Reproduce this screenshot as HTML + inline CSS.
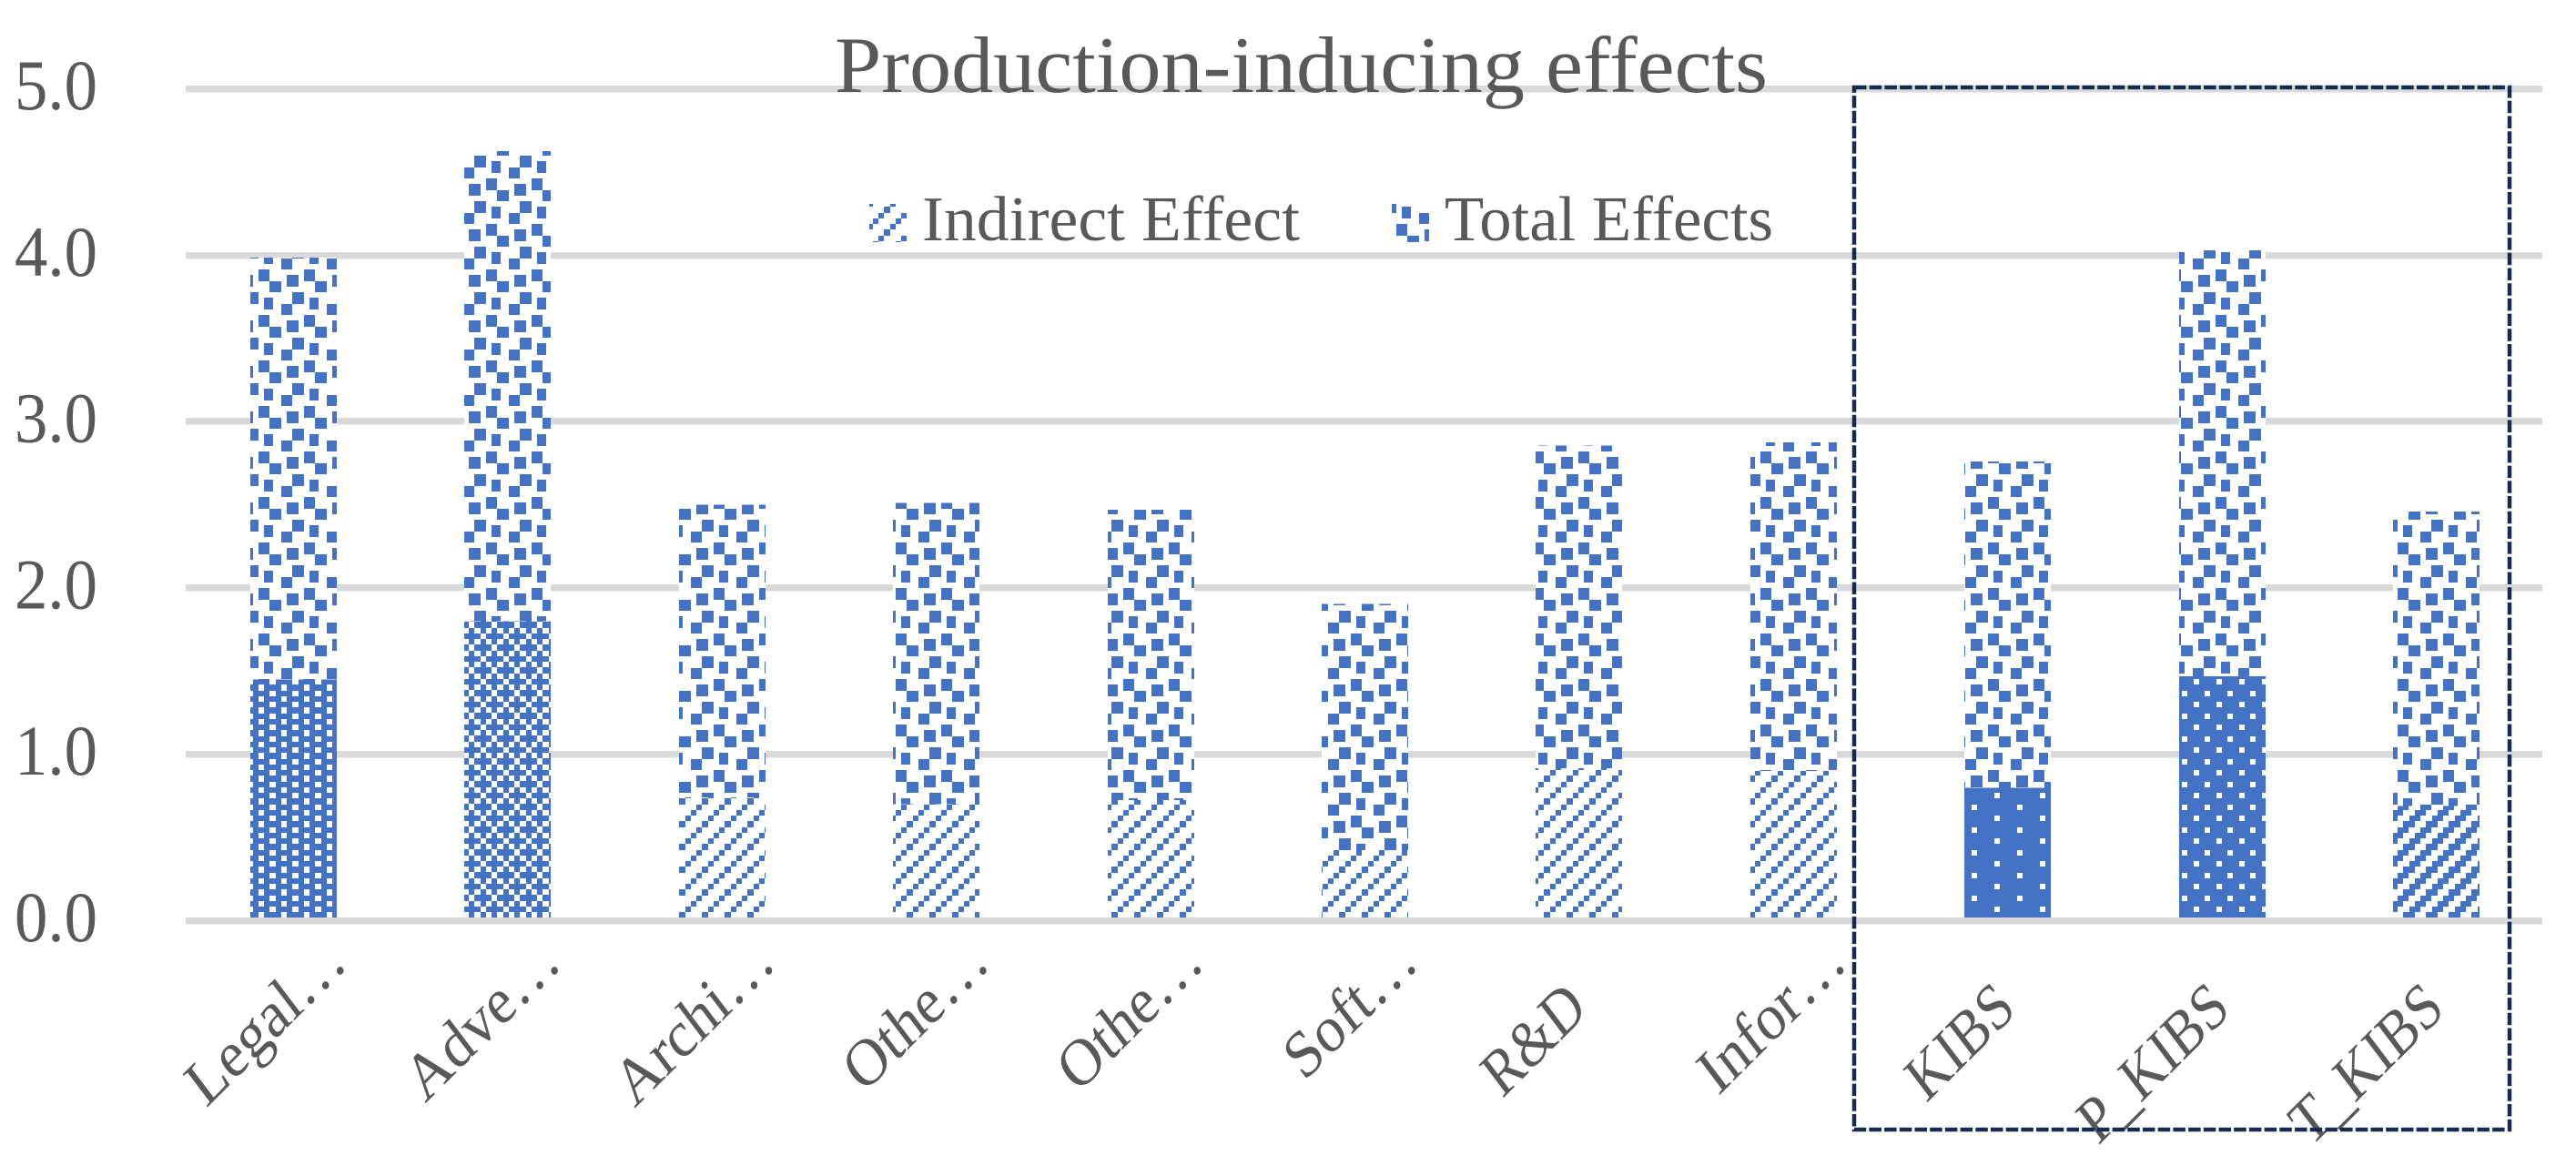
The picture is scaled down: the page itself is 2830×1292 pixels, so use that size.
<!DOCTYPE html>
<html lang="en">
<head>
<meta charset="utf-8">
<title>Production-inducing effects</title>
<style>
html,body{margin:0;padding:0;background:#fff;}
svg{display:block;}
text{font-family:"Liberation Serif",serif;fill:#595959;}
pattern rect{shape-rendering:crispEdges;}
</style>
</head>
<body>
<svg id="chart" xmlns="http://www.w3.org/2000/svg" width="2830" height="1292" viewBox="0 0 2830 1292">
<defs>
  <pattern id="p-total" patternUnits="userSpaceOnUse" width="50" height="50">
    <rect width="50" height="50" fill="#fff"/>
    <g fill="#4472C4">
      <rect x="15" y="2" width="13" height="13"/>
      <rect x="34" y="-4" width="12" height="13"/>
      <rect x="34" y="46" width="12" height="13"/>
      <rect x="46" y="9" width="13" height="12"/>
      <rect x="-4" y="9" width="13" height="12"/>
      <rect x="21" y="21" width="13" height="13"/>
      <rect x="9" y="34" width="12" height="12"/>
      <rect x="40" y="27" width="13" height="13"/>
    </g>
  </pattern>
  <pattern id="p-diag" patternUnits="userSpaceOnUse" width="25" height="25">
    <rect width="25" height="25" fill="#fff"/>
    <g fill="#4472C4">
      <rect x="21" y="2" width="7" height="7"/>
      <rect x="-4" y="2" width="7" height="7"/>
      <rect x="3" y="21" width="6" height="6"/>
      <rect x="3" y="-4" width="6" height="6"/>
      <rect x="9" y="15" width="6" height="6"/>
      <rect x="15" y="9" width="6" height="6"/>
    </g>
  </pattern>
  <pattern id="p-diag-wide" patternUnits="userSpaceOnUse" width="25" height="25">
    <rect width="25" height="25" fill="#fff"/>
    <g fill="#4472C4">
      <rect x="15" y="2" width="13" height="7"/>
      <rect x="-10" y="2" width="13" height="7"/>
      <rect x="-3" y="21" width="12" height="6"/>
      <rect x="22" y="21" width="12" height="6"/>
      <rect x="-3" y="-4" width="12" height="6"/>
      <rect x="22" y="-4" width="12" height="6"/>
      <rect x="3" y="15" width="12" height="6"/>
      <rect x="9" y="9" width="12" height="6"/>
    </g>
  </pattern>
  <pattern id="p-holes" patternUnits="userSpaceOnUse" width="25" height="25">
    <rect width="25" height="25" fill="#4472C4"/>
    <g fill="#fff">
      <rect x="9" y="2" width="6" height="7"/>
      <rect x="9" y="15" width="6" height="6"/>
      <rect x="21" y="9" width="7" height="6"/>
      <rect x="-4" y="9" width="7" height="6"/>
      <rect x="21" y="21" width="7" height="6"/>
      <rect x="-4" y="21" width="7" height="6"/>
      <rect x="21" y="-4" width="7" height="6"/>
      <rect x="-4" y="-4" width="7" height="6"/>
    </g>
  </pattern>
  <pattern id="p-checker" patternUnits="userSpaceOnUse" x="15" y="8" width="25" height="25">
    <rect width="25" height="25" fill="#4472C4"/>
    <g fill="#fff">
      <rect x="0" y="0" width="6" height="7"/>
      <rect x="6" y="7" width="7" height="6"/>
      <rect x="19" y="7" width="6" height="6"/>
      <rect x="13" y="13" width="6" height="6"/>
      <rect x="6" y="19" width="7" height="6"/>
      <rect x="19" y="19" width="6" height="6"/>
    </g>
  </pattern>
  <pattern id="p-dots-dense" patternUnits="userSpaceOnUse" width="25" height="25">
    <rect width="25" height="25" fill="#4472C4"/>
    <g fill="#fff">
      <rect x="10" y="21" width="6" height="6"/>
      <rect x="10" y="-4" width="6" height="6"/>
      <rect x="22" y="9" width="6" height="6"/>
      <rect x="-3" y="9" width="6" height="6"/>
    </g>
  </pattern>
  <pattern id="p-dots-sparse" patternUnits="userSpaceOnUse" width="50" height="25">
    <rect width="50" height="25" fill="#4472C4"/>
    <g fill="#fff">
      <rect x="16" y="9" width="6" height="6"/>
      <rect x="41" y="21" width="6" height="6"/>
      <rect x="41" y="-4" width="6" height="6"/>
    </g>
  </pattern>
</defs>

<g id="grid-layer"></g>
<g id="tick-layer"></g>
<g id="bar-layer"></g>
<g id="axis-layer"></g>
<g id="cat-layer"></g>

<text x="917" y="101" font-size="88" textLength="1025" lengthAdjust="spacingAndGlyphs">Production-inducing effects</text>

<g>
  <g>
    <rect x="955" y="224" width="41" height="42" fill="url(#p-diag)"/>
    <text x="1013" y="264" font-size="70" textLength="415" lengthAdjust="spacingAndGlyphs">Indirect Effect</text>
  </g>
  <g>
    <rect x="1529" y="224" width="41" height="42" fill="url(#p-total)"/>
    <text x="1587" y="264" font-size="70" textLength="361" lengthAdjust="spacingAndGlyphs">Total Effects</text>
  </g>
</g>

<rect x="2037" y="96" width="720" height="1145" fill="none" stroke="#152B50" stroke-width="4.5" stroke-dasharray="13.5 3.2"/>

<script>
const categories = ['Legal…','Adve…','Archi…','Othe…','Othe…','Soft…','R&D','Infor…','KIBS','P_KIBS','T_KIBS'];
const indirectEffect = [1.45,1.80,0.74,0.70,0.725,0.425,0.915,0.90,0.80,1.47,0.69];
const totalEffects = [2.535,2.825,1.76,1.81,1.745,1.48,1.94,1.975,1.96,2.56,1.77];
const yTicks = [0,1,2,3,4,5];

const NS = 'http://www.w3.org/2000/svg';
function xCenter(i){ return 322.5 + 235.4 * i; }
function yPos(v){ return 1011.5 - 182.8 * v; }
function indirectFill(i){
  if (i === 0) return 'url(#p-holes)';
  if (i === 1) return 'url(#p-checker)';
  if (i === 8) return 'url(#p-dots-sparse)';
  if (i === 9) return 'url(#p-dots-dense)';
  if (i === 10) return 'url(#p-diag-wide)';
  return 'url(#p-diag)';
}
const gridLayer = document.getElementById('grid-layer');
const tickLayer = document.getElementById('tick-layer');
const barLayer = document.getElementById('bar-layer');
const axisLayer = document.getElementById('axis-layer');
const catLayer = document.getElementById('cat-layer');

yTicks.forEach(function(t){
  const line = document.createElementNS(NS, 'rect');
  
  
  line.setAttribute('x', 204);
  line.setAttribute('y', Math.round(yPos(t) - 3.75));
  line.setAttribute('width', 2589);
  line.setAttribute('height', 7.5);
  line.setAttribute('fill', '#D9D9D9');
  (t === 0 ? axisLayer : gridLayer).appendChild(line);

  const label = document.createElementNS(NS, 'text');
  
  
  label.setAttribute('x', 16);
  label.setAttribute('y', yPos(t) + 22.5);
  label.setAttribute('font-size', 78);
  label.setAttribute('textLength', 91);
  label.setAttribute('lengthAdjust', 'spacingAndGlyphs');
  label.textContent = t.toFixed(1);
  tickLayer.appendChild(label);
});

categories.forEach(function(name, i){
  const cx = xCenter(i);
  const left = Math.round(cx - 47.6);
  const lowerTop = yPos(indirectEffect[i]);
  const upperTop = yPos(indirectEffect[i] + totalEffects[i]);

  const upper = document.createElementNS(NS, 'rect');
  
  
  upper.setAttribute('x', left);
  upper.setAttribute('y', upperTop);
  upper.setAttribute('width', 95);
  upper.setAttribute('height', lowerTop - upperTop);
  upper.setAttribute('fill', 'url(#p-total)');
  upper.setAttribute('shape-rendering', 'crispEdges');
  barLayer.appendChild(upper);

  const lower = document.createElementNS(NS, 'rect');
  
  
  lower.setAttribute('x', left);
  lower.setAttribute('y', lowerTop);
  lower.setAttribute('width', 95);
  lower.setAttribute('height', yPos(0) - lowerTop);
  lower.setAttribute('fill', indirectFill(i));
  lower.setAttribute('shape-rendering', 'crispEdges');
  barLayer.appendChild(lower);

  const truncated = name.charAt(name.length - 1) === '…';
  const ax = truncated ? cx + 61 : cx + 11;
  const ay = truncated ? 1061 : 1112;
  const squeeze = truncated ? 1 : 0.92;
  const label = document.createElementNS(NS, 'text');
  
  
  label.setAttribute('text-anchor', 'end');
  label.setAttribute('font-size', 73);
  label.setAttribute('transform', 'translate(' + ax + ',' + ay + ') scale(0.87,1) rotate(-41) scale(' + squeeze + ',1)');
  label.textContent = name;
  catLayer.appendChild(label);
});
</script>
</svg>
</body>
</html>
